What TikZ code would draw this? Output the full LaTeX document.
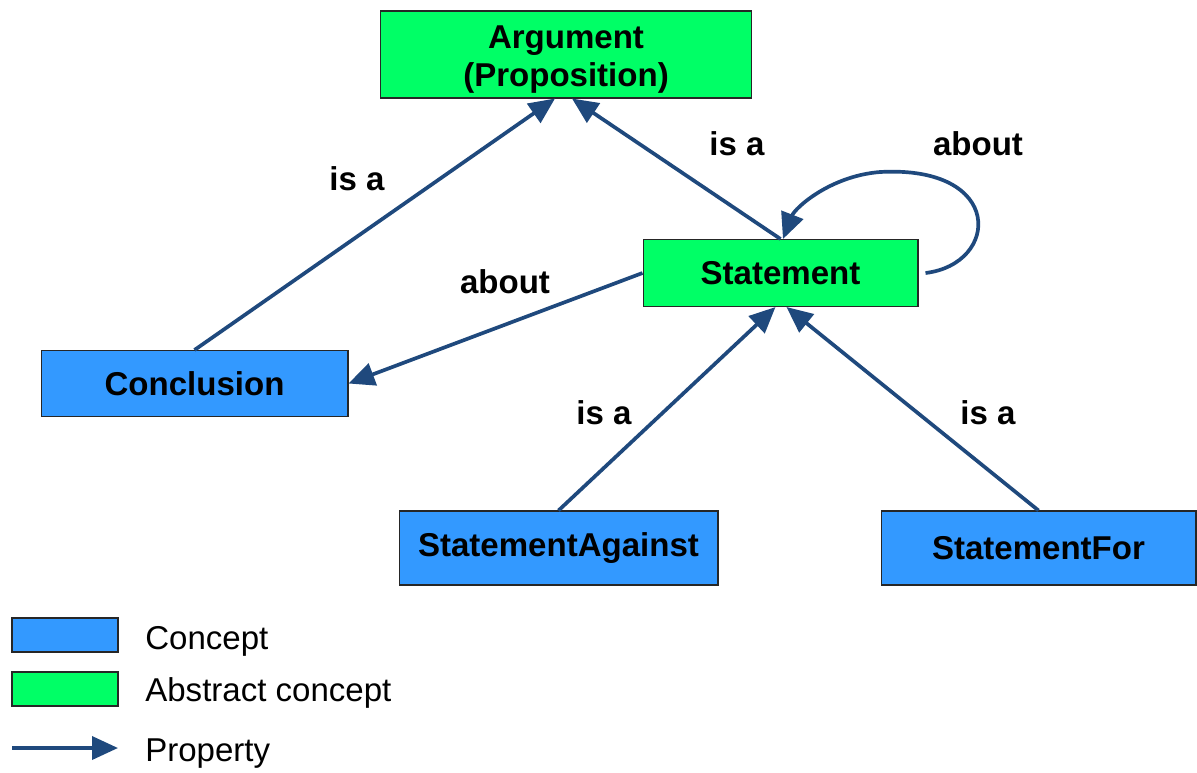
\documentclass[tikz,border=0pt]{standalone}
\usepackage{fontspec}
\setmainfont{Liberation Sans}
\usetikzlibrary{arrows.meta}
\definecolor{conceptblue}{RGB}{51,153,255}
\definecolor{abstractgreen}{RGB}{0,255,102}
\definecolor{propblue}{RGB}{31,73,125}
\newcommand{\labelsize}{\fontsize{18.8}{21.6}\selectfont}

\begin{document}
\begin{tikzpicture}[x=.02cm,y=-.02cm,
  box/.style={draw=black!85,line width=.6pt,align=center,inner sep=0pt,font=\labelsize\bfseries},
  concept/.style={box,fill=conceptblue},
  abstract/.style={box,fill=abstractgreen},
  prop/.style={draw=propblue,line width=2.1pt,-{Triangle[length=.52cm,width=.46cm]}},
  lbl/.style={font=\labelsize\bfseries,anchor=base},
  key/.style={font=\labelsize,anchor=base west,inner sep=0pt}]
\useasboundingbox (0,0) rectangle (1197,772);

% boxes
\node[abstract,minimum width=7.44cm,minimum height=1.74cm,text height=1.42cm](arg)at(566,54.5){Argument\\(Proposition)};
\node[abstract,minimum width=5.5cm,minimum height=1.34cm](stmt)at(780.5,273){Statement};
\node[concept,minimum width=6.14cm,minimum height=1.32cm](concl)at(194.5,383.5){Conclusion};
\node[concept,minimum width=6.38cm,minimum height=1.48cm](against)at(558.5,548){StatementAgainst};
\node[concept,minimum width=6.3cm,minimum height=1.48cm](for)at(1038.5,548){StatementFor};

% properties
\draw[prop](concl.north)--([xshift=-.22cm]arg.south);
\draw[prop](stmt.north)--([xshift=.12cm]arg.south);
\draw[prop](stmt.west)--(concl.east);
\draw[prop](against.north)--([xshift=-.1cm]stmt.south);
\draw[prop](for.north)--([xshift=.12cm]stmt.south);
\draw[prop]([xshift=.14cm]stmt.east) .. controls (1000,264) and (1005,165) .. (880,172)
  .. controls (830,176) and (795,208) .. ([xshift=.05cm]stmt.north);

\node[lbl](isa1)at(357,190){is a};
\node[lbl](isa2)at(737,155){is a};
\node[lbl](about1)at(978,155){about};
\node[lbl](about2)at(505,293){about};
\node[lbl](isa3)at(604,424){is a};
\node[lbl](isa4)at(988,424){is a};

% legend
\node[concept,minimum width=2.12cm,minimum height=.68cm](kconcept)at(65,635){};
\node[abstract,minimum width=2.12cm,minimum height=.68cm](kabstract)at(65,689){};
\coordinate(kfrom)at(12,748);
\coordinate(kto)at(118,748);
\draw[prop](kfrom)--(kto);
\node[key](tconcept)at(145,649){Concept};
\node[key](tabstract)at(145,701){Abstract concept};
\node[key](tprop)at(145,761){Property};
\end{tikzpicture}
\end{document}
